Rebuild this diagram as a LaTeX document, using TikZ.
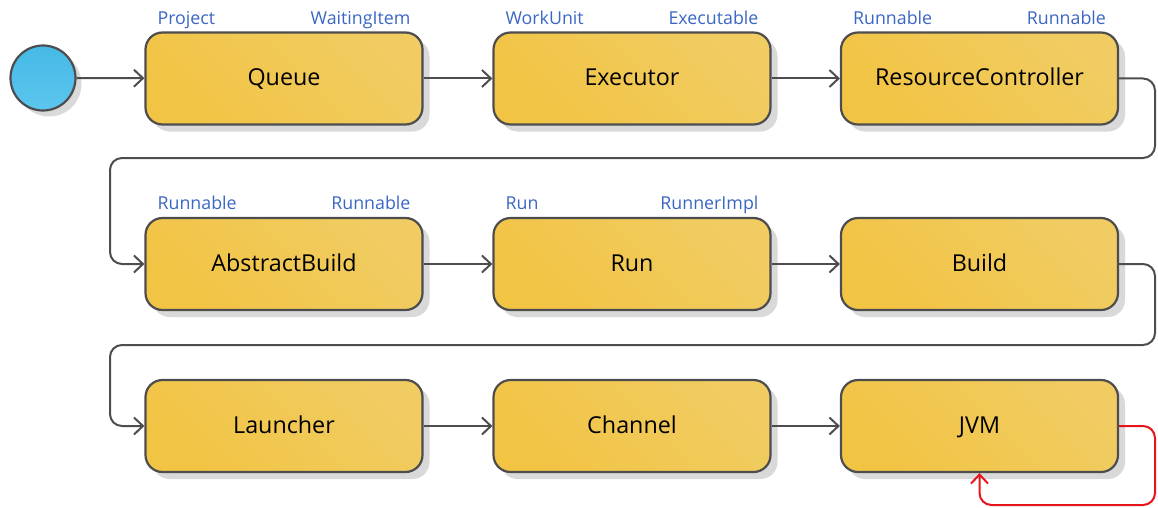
\documentclass[tikz,border=0pt]{standalone}
\usepackage{fontspec}
\setmainfont{Open Sans}
\usetikzlibrary{arrows.meta,shadows,calc}
\definecolor{boxA}{HTML}{F2C444}
\definecolor{boxB}{HTML}{F0CC62}
\definecolor{edge}{HTML}{4D4D4F}
\definecolor{lblblue}{HTML}{3A66C4}
\definecolor{startA}{HTML}{45B9E6}
\definecolor{startB}{HTML}{5CC6EE}
\definecolor{redline}{HTML}{E8141C}
\tikzset{
  box/.style={draw=edge, line width=2.2pt, rounded corners=17pt,
    minimum width=277pt, minimum height=92pt, inner sep=0pt,
    text height=18pt, text depth=3pt,
    shading=axis, left color=boxA, right color=boxB, shading angle=135,
    drop shadow={shadow xshift=7pt, shadow yshift=-7pt, fill=black!15, opacity=1},
    font=\fontsize{23.3}{27}\selectfont, text=black},
  start/.style={circle, draw=edge, line width=2.2pt, minimum size=65pt, inner sep=0pt,
    shading=axis, top color=startA, bottom color=startB,
    drop shadow={shadow xshift=6pt, shadow yshift=-6pt, fill=black!15, opacity=1}},
  lbl/.style={font=\fontsize{17.8}{20}\selectfont, text=lblblue, inner sep=0pt},
  conn/.style={draw=edge, line width=2pt, -{Straight Barb[length=9pt,width=17pt,line width=2pt]}},
  loop/.style={draw=redline, line width=2pt, rounded corners=12pt, -{Straight Barb[length=9pt,width=17pt,line width=2pt]}}
}
\begin{document}
\begin{tikzpicture}[x=1pt,y=-1pt]
\useasboundingbox (0,0) rectangle (1158,508);
% nodes
\node[start] (s) at (43,78) {};
\node[box] (q) at (284,78.5) {Queue};
\node[box] (ex) at (632,78.5) {Executor};
\node[box] (rc) at (979.5,78.5) {ResourceController};
\node[box] (ab) at (284,264) {AbstractBuild};
\node[box] (rn) at (632,264) {Run};
\node[box] (bd) at (979.5,264) {Build};
\node[box] (la) at (284,426) {Launcher};
\node[box] (ch) at (632,426) {Channel};
\node[box] (jvm) at (979.5,426) {JVM};
% labels
\node[lbl, anchor=base west] (l1) at ($(q.north west)+(13,-7)$) {Project};
\node[lbl, anchor=base east] (l2) at ($(q.north east)+(-13,-7)$) {WaitingItem};
\node[lbl, anchor=base west] (l3) at ($(ex.north west)+(13,-7)$) {WorkUnit};
\node[lbl, anchor=base east] (l4) at ($(ex.north east)+(-13,-7)$) {Executable};
\node[lbl, anchor=base west] (l5) at ($(rc.north west)+(13,-7)$) {Runnable};
\node[lbl, anchor=base east] (l6) at ($(rc.north east)+(-13,-7)$) {Runnable};
\node[lbl, anchor=base west] (l7) at ($(ab.north west)+(13,-7)$) {Runnable};
\node[lbl, anchor=base east] (l8) at ($(ab.north east)+(-13,-7)$) {Runnable};
\node[lbl, anchor=base west] (l9) at ($(rn.north west)+(13,-7)$) {Run};
\node[lbl, anchor=base east] (l10) at ($(rn.north east)+(-13,-7)$) {RunnerImpl};
% waypoints
\coordinate (w1) at (1155,158);
\coordinate (w2) at (110,158);
\coordinate (w3) at (1155,345);
\coordinate (w4) at (110,345);
\coordinate (r1) at (1155,505);
% connectors
\draw[conn] (s) -- (q);
\draw[conn] (q) -- (ex);
\draw[conn] (ex) -- (rc);
\draw[conn, rounded corners=12pt] (rc.east) -| (w1) -- (w2) |- (ab.west);
\draw[conn] (ab) -- (rn);
\draw[conn] (rn) -- (bd);
\draw[conn, rounded corners=12pt] (bd.east) -| (w3) -- (w4) |- (la.west);
\draw[conn] (la) -- (ch);
\draw[conn] (ch) -- (jvm);
\draw[loop] (jvm.east) -| (r1) -| (jvm.south);
\end{tikzpicture}
\end{document}
